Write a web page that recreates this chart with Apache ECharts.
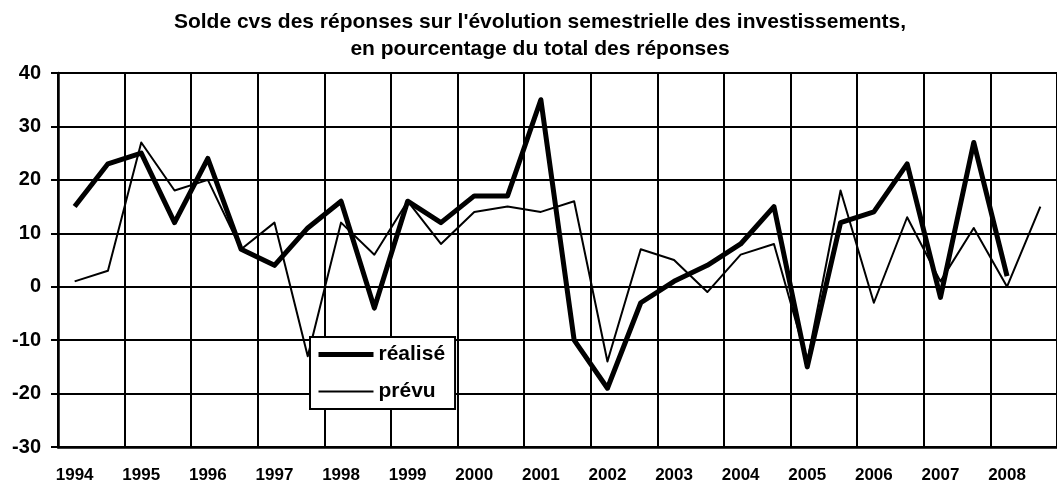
<!DOCTYPE html>
<html>
<head>
<meta charset="utf-8">
<script src="https://cdn.jsdelivr.net/npm/echarts@6/dist/echarts.min.js"></script>
<style>
html, body { margin: 0; padding: 0; background: #fff; }
#chart { width: 1057px; height: 484px; }
</style>
</head>
<body>
<div id="chart"></div>
<script>
// one label per year, two semesters per year
var years = ['1994','1995','1996','1997','1998','1999','2000','2001','2002','2003','2004','2005','2006','2007','2008'];
var realise = [15, 23, 25, 12, 24, 7, 4, 11, 16, -4, 16, 12, 17, 17, 35,
               -10, -19, -3, 1, 4, 8, 15, -15, 12, 14, 23, -2, 27, 2, null];
var prevu = [1, 3, 27, 18, 20, 7, 12, -13, 12, 6, 16, 8, 14, 15, 14,
             16, -14, 7, 5, -1, 6, 8, -14, 18, -3, 13, 1, 11, 0, 15];
var yTicks = [-30, 40, 10]; // min, max, step

var categories = [];
years.forEach(function (y) {
    categories.push(y + ' S1');
    categories.push(y + ' S2');
});

var font = '"Liberation Sans", Arial, sans-serif';

var option = {
    animation: false,
    backgroundColor: '#ffffff',
    title: {
        text: "Solde cvs des réponses sur l'évolution semestrielle des investissements,\nen pourcentage du total des réponses",
        left: 535,
        top: 4,
        textAlign: 'center',
        textStyle: {
            fontFamily: font,
            fontWeight: 'bold',
            fontSize: 21,
            lineHeight: 27,
            color: '#000'
        }
    },
    legend: {
        data: [
            { name: 'réalisé', lineStyle: { width: 5, color: '#000' } },
            { name: 'prévu', lineStyle: { width: 2, color: '#000' } }
        ],
        orient: 'vertical',
        left: 310,
        top: 337,
        padding: [7, 10, 7, 6],
        itemWidth: 55,
        itemHeight: 14,
        itemGap: 16,
        backgroundColor: '#ffffff',
        borderColor: '#000',
        borderWidth: 2,
        itemStyle: { opacity: 0 },
        textStyle: {
            fontFamily: font,
            fontWeight: 'bold',
            fontSize: 21,
            color: '#000'
        }
    },
    grid: {
        left: 58,
        right: -10,
        top: 73,
        bottom: 35,
        containLabel: false
    },
    xAxis: {
        type: 'category',
        data: categories,
        boundaryGap: true,
        axisLine: { onZero: false, lineStyle: { color: '#000', width: 2.5 } },
        axisTick: { show: false },
        axisLabel: {
            interval: 1,
            margin: 20,
            fontFamily: font,
            fontWeight: 'bold',
            fontSize: 17,
            color: '#000',
            formatter: function (v) { return v.slice(0, 4); }
        },
        splitLine: { show: true, interval: 1, lineStyle: { color: '#000', width: 2 } }
    },
    yAxis: {
        type: 'value',
        min: yTicks[0],
        max: yTicks[1],
        interval: yTicks[2],
        axisLine: { show: true, lineStyle: { color: '#000', width: 2.5 } },
        axisTick: { show: true, length: 7, lineStyle: { color: '#000', width: 2 } },
        axisLabel: {
            margin: 17,
            fontFamily: font,
            fontWeight: 'bold',
            fontSize: 20,
            color: '#000'
        },
        splitLine: { show: true, lineStyle: { color: '#000', width: 2 } }
    },
    series: [
        {
            name: 'prévu',
            type: 'line',
            data: prevu,
            symbol: 'none',
            lineStyle: { color: '#000', width: 2, join: 'round' },
            itemStyle: { color: '#000' }
        },
        {
            name: 'réalisé',
            type: 'line',
            data: realise,
            symbol: 'none',
            lineStyle: { color: '#000', width: 5, join: 'round' },
            itemStyle: { color: '#000' }
        }
    ]
};

var myChart = echarts.init(document.getElementById('chart'));
myChart.setOption(option);
</script>
</body>
</html>
